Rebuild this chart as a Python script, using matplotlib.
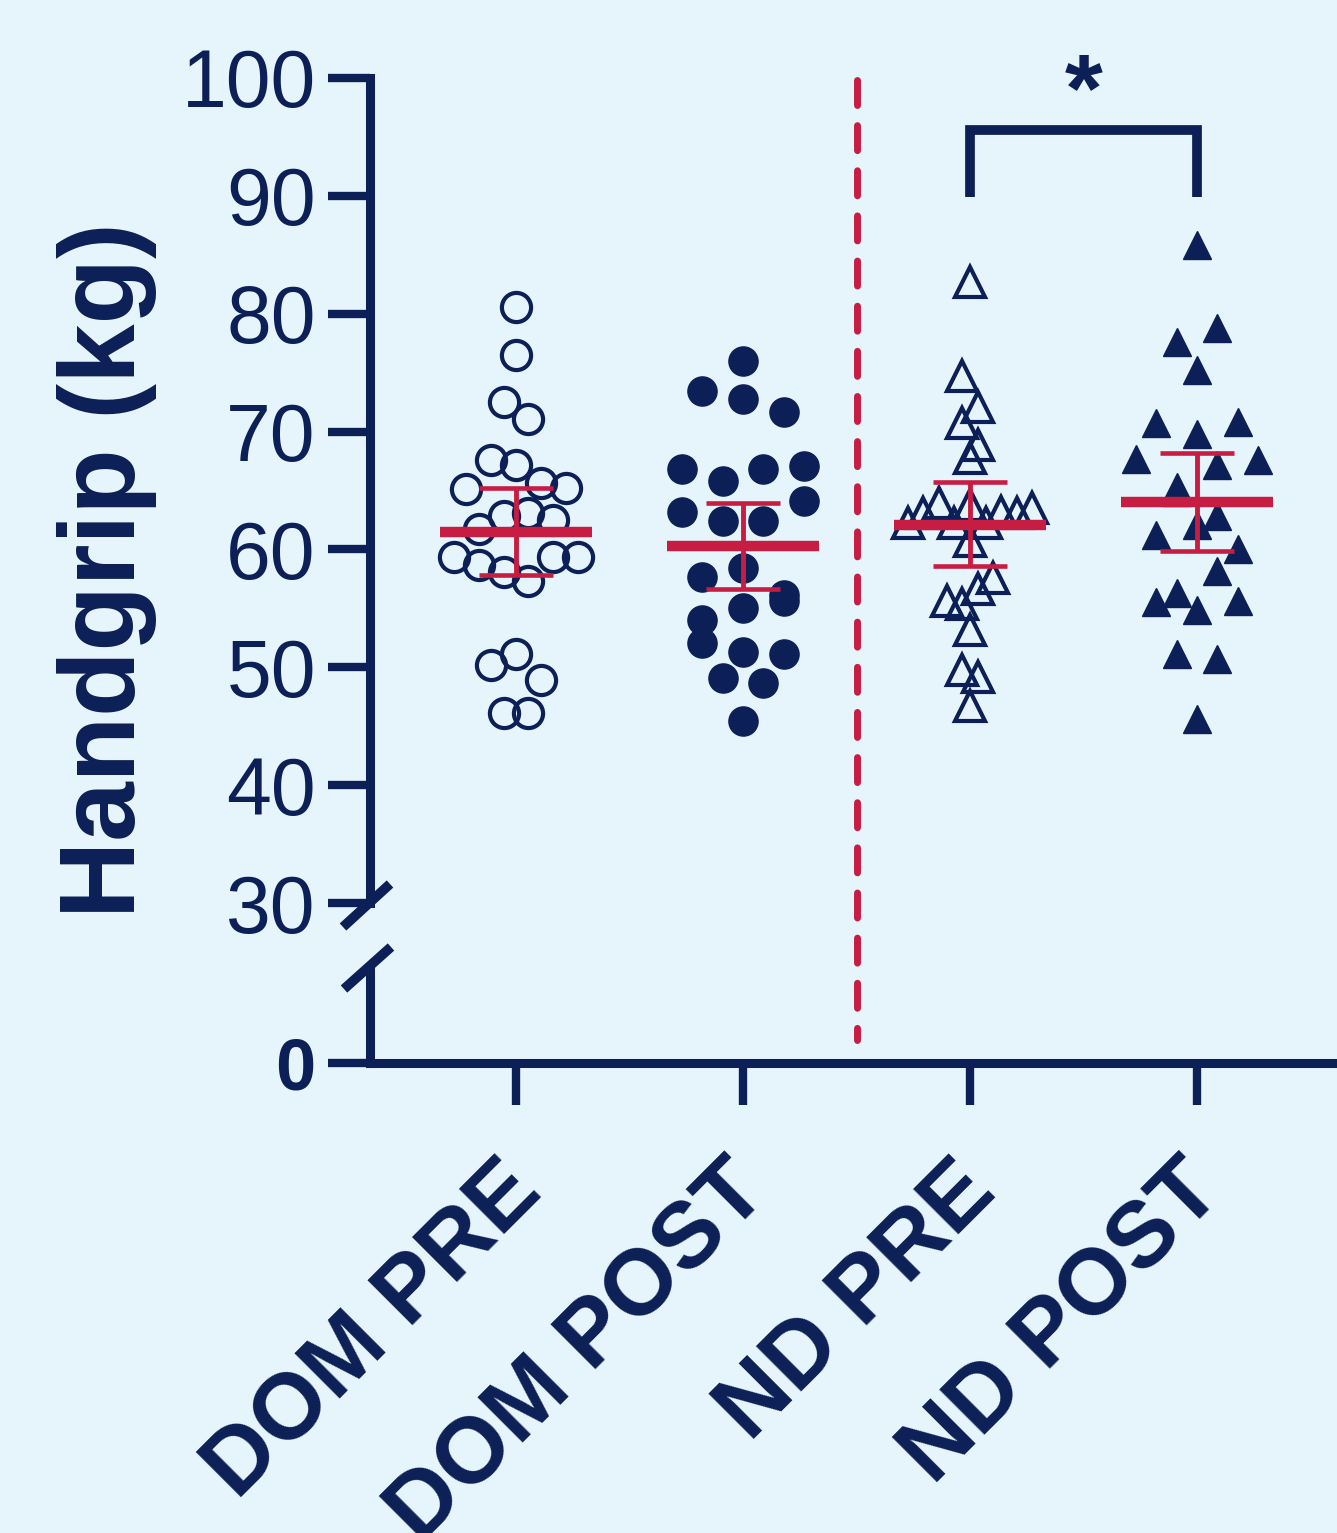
import numpy as np
import matplotlib
matplotlib.use("Agg")
import matplotlib.pyplot as plt
from matplotlib.lines import Line2D
from matplotlib.transforms import ScaledTranslation, blended_transform_factory

plt.rcParams['font.family'] = ['Liberation Sans', 'DejaVu Sans']

# data (kg)
groups = ["DOM PRE", "DOM POST", "ND PRE", "ND POST"]
dom_pre = [80.6, 76.5, 72.5, 71.1, 65.1, 67.6, 67.2, 65.6, 65.2, 61.7, 62.8, 63.1,
           62.5, 59.4, 58.7, 58.1, 57.3, 59.4, 59.4, 50.2, 51.1, 48.9, 46.1, 46.1]
dom_post = [76.0, 73.4, 72.8, 71.7, 66.8, 65.8, 66.8, 67.1, 63.2, 62.4, 62.4, 64.1,
            57.7, 58.4, 56.1, 54.0, 55.0, 55.6, 52.1, 51.3, 51.1, 49.1, 48.7, 45.4]
nd_pre = [82.7, 74.7, 72.1, 70.7, 67.8, 68.9, 62.2, 63.1, 63.9, 62.2, 63.8, 62.2,
          63.2, 63.1, 63.5, 60.7, 55.6, 55.4, 56.6, 57.6, 53.2, 49.8, 49.2, 46.7]
nd_post = [85.8, 77.6, 78.8, 75.2, 70.7, 69.8, 70.8, 67.7, 65.3, 67.2, 67.6, 64.9,
           62.8, 61.2, 62.1, 60.0, 56.3, 58.2, 55.5, 54.9, 55.6, 51.1, 50.7, 45.6]
means = [61.5, 60.3, 62.1, 64.0]
err_hi = [65.2, 63.9, 65.7, 68.2]
err_lo = [57.8, 56.6, 58.6, 59.9]
sig_pair = (2, 3)
sig_label = "*"

navy = "#0c1f56"
red = "#c81d43"
bg = "#e6f4fc"

W, H = 1337, 1533
fig = plt.figure(figsize=(W / 100, H / 100), dpi=100, facecolor=bg)
ax_top = fig.add_axes([370 / W, 1 - 903 / H, 967 / W, 825 / H])
ax_bot = fig.add_axes([370 / W, 1 - 1063 / H, 967 / W, 95 / H])
for ax in (ax_top, ax_bot):
    ax.set_facecolor(bg)
    ax.set_xlim(-146 / 227, 3 + 140 / 227)
    for s in ax.spines.values():
        s.set_color(navy)
        s.set_linewidth(6.5)
    ax.spines['top'].set_visible(False)
    ax.spines['right'].set_visible(False)

ax_top.set_ylim(30, 100)
ax_bot.set_ylim(0, 95 / 11.79)
ax_top.spines['bottom'].set_visible(False)
ax_top.set_xticks([])
ax_top.set_yticks(range(30, 101, 10))
ax_top.tick_params(axis='y', length=30, width=6, pad=9, labelsize=58,
                   color=navy, labelcolor=navy)
ax_bot.set_yticks([0])
ax_bot.set_yticklabels(["0"], fontweight='bold')
ax_bot.tick_params(axis='y', length=30, width=6, pad=9, labelsize=52,
                   color=navy, labelcolor=navy)
ax_bot.set_xticks(range(4))
ax_bot.set_xticklabels([])
ax_bot.tick_params(axis='x', length=30, width=6, color=navy)


def swarm_x(vals, center, row_h, max_step=0.18, max_width=0.55):
    # group values into rows about one symbol high, spread each row sideways
    vals = np.asarray(vals)
    order = np.argsort(-vals, kind='stable')
    rows, cur, top = [], [order[0]], vals[order[0]]
    for idx in order[1:]:
        if top - vals[idx] < row_h:
            cur.append(idx)
        else:
            rows.append(cur)
            cur, top = [idx], vals[idx]
    rows.append(cur)
    nmax = max(len(r) for r in rows)
    step = min(max_step, max_width / max(nmax - 1, 1))
    x = np.zeros(len(vals))
    for r in rows:
        r = sorted(r)
        n = len(r)
        for k, idx in enumerate(r):
            x[idx] = center + (k - (n - 1) / 2) * step
    return x


styles = [
    dict(marker='o', ms=21, mew=3, mfc='none', mec=navy, row_h=2.8),
    dict(marker='o', ms=21, mew=1, mfc=navy, mec=navy, row_h=2.5),
    dict(marker='^', ms=22, mew=3, mfc='none', mec=navy, row_h=2.9),
    dict(marker='^', ms=20, mew=1, mfc=navy, mec=navy, row_h=2.5),
]
for i, (vals, st) in enumerate(zip([dom_pre, dom_post, nd_pre, nd_post], styles)):
    st = dict(st)
    row_h = st.pop('row_h')
    xs = swarm_x(vals, i, row_h)
    ax_top.plot(xs, vals, linestyle='none', zorder=3, clip_on=False, **st)

# mean and error bars
for i in range(4):
    ax_top.hlines(means[i], i - 0.333, i + 0.333, color=red, lw=7.5, zorder=5)
    ax_top.hlines([err_hi[i], err_lo[i]], i - 0.165, i + 0.165, color=red, lw=3.3, zorder=5)
    ax_top.vlines(i, err_lo[i], err_hi[i], color=red, lw=3.5, zorder=5)

# significance bracket
a, b = sig_pair
ax_top.plot([a, a, b, b], [89.9, 95.6, 95.6, 89.9], color=navy, lw=7,
            solid_joinstyle='miter', solid_capstyle='butt', clip_on=False)
ax_top.text((a + b) / 2, 98.5, sig_label, ha='center', va='center', fontsize=70,
            fontweight='bold', color=navy, clip_on=False)

# dashed separator across the axis break
tr = blended_transform_factory(ax_top.transData, fig.transFigure)
fig.add_artist(Line2D([1.5, 1.5], [1 - 80 / H, 1 - 1040 / H], transform=tr,
                      color=red, lw=5, linestyle=(0, (3.6, 2.9)),
                      dash_capstyle='round'))

# axis break marks
for (x0, y0, x1, y1) in [(343, 927, 390, 884), (344, 989, 391, 947)]:
    fig.add_artist(Line2D([x0 / W, x1 / W], [1 - y0 / H, 1 - y1 / H],
                          transform=fig.transFigure, color=navy, lw=7,
                          solid_capstyle='butt'))

# x labels, rotated
off = ScaledTranslation(-19 / 100, -84 / 100, fig.dpi_scale_trans)
for i, g in enumerate(groups):
    ax_bot.text(i, 0, g, transform=ax_bot.get_xaxis_transform() + off,
                rotation=45, rotation_mode='anchor', ha='right', va='top',
                fontsize=67, fontweight='bold', color=navy)

fig.text(135 / W, 1 - 570 / H, "Handgrip (kg)", rotation=90, rotation_mode='anchor',
         ha='center', va='baseline', fontsize=77, fontweight='bold', color=navy)

fig.savefig("out.png", dpi=100, facecolor=bg)
